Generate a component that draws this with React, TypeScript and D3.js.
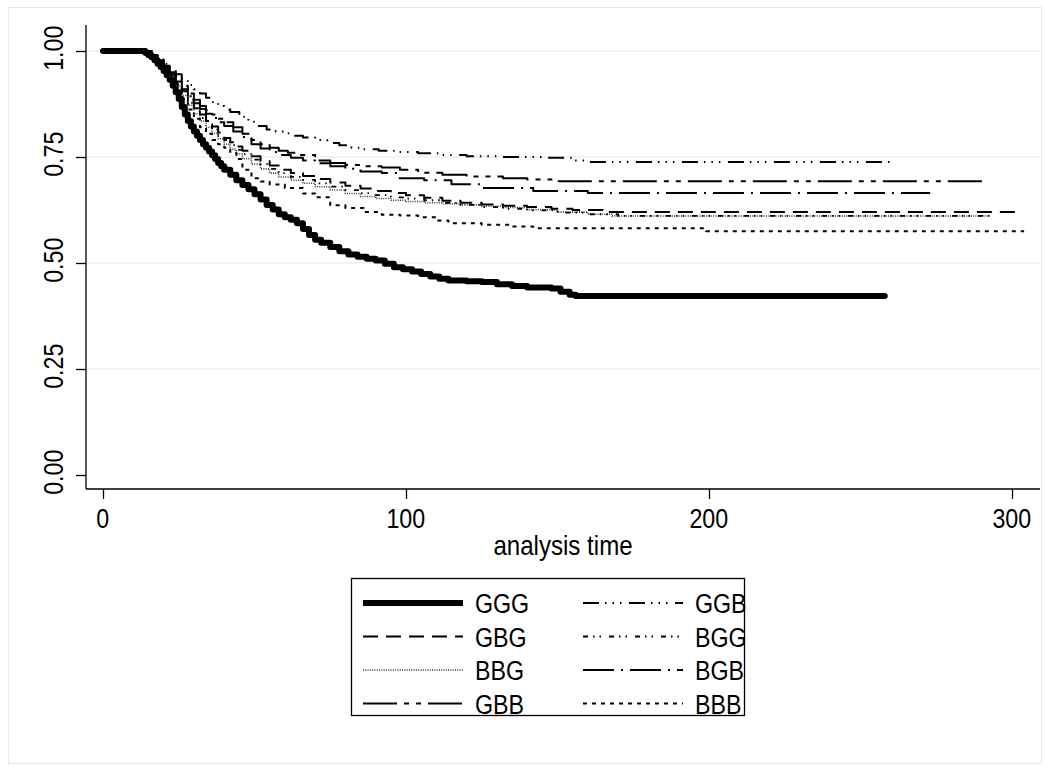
import React, { useEffect, useRef } from "react";
import * as d3 from "d3";

type Step = [number, number];

// Kaplan-Meier estimates: [analysis time, survival]
const GGG: Step[] = [
  [0, 1], [13, 1], [14, 0.995], [15, 0.99], [16, 0.985], [17, 0.978], [18, 0.97], [19, 0.962],
  [20, 0.953], [21, 0.943], [22, 0.932], [23, 0.918], [24, 0.903], [25, 0.887], [26, 0.868],
  [27, 0.85], [28, 0.835], [29, 0.822], [30, 0.81], [31, 0.8], [32, 0.79], [33, 0.78],
  [34, 0.772], [35, 0.763], [36, 0.754], [37, 0.745], [38, 0.736], [39, 0.728], [40, 0.72],
  [42, 0.708], [44, 0.695], [46, 0.684], [48, 0.674], [50, 0.662], [52, 0.65], [54, 0.637],
  [56, 0.626], [58, 0.615], [60, 0.608], [62, 0.602], [64, 0.594], [66, 0.58], [68, 0.566],
  [70, 0.555], [72, 0.548], [75, 0.538], [78, 0.528], [81, 0.52], [84, 0.515], [87, 0.51],
  [90, 0.506], [93, 0.498], [96, 0.49], [99, 0.485], [102, 0.48], [105, 0.474], [108, 0.468],
  [111, 0.463], [114, 0.459], [120, 0.457], [125, 0.455], [130, 0.45], [135, 0.446],
  [140, 0.442], [148, 0.44], [151, 0.432], [154, 0.425], [156, 0.422], [258, 0.422],
];

const GGB: Step[] = [
  [0, 1], [14, 1], [16, 0.99], [18, 0.98], [20, 0.97], [22, 0.958], [24, 0.945], [26, 0.932],
  [28, 0.92], [30, 0.91], [32, 0.9], [34, 0.89], [36, 0.88], [38, 0.87], [40, 0.862],
  [42, 0.856], [45, 0.845], [48, 0.833], [51, 0.823], [54, 0.815], [57, 0.81], [60, 0.806],
  [63, 0.8], [66, 0.796], [70, 0.79], [74, 0.783], [78, 0.778], [82, 0.772], [86, 0.768],
  [91, 0.765], [96, 0.762], [104, 0.759], [112, 0.755], [120, 0.752], [132, 0.75],
  [145, 0.748], [155, 0.742], [160, 0.738], [261, 0.738],
];

const GBB: Step[] = [
  [0, 1], [14, 1], [16, 0.99], [18, 0.978], [20, 0.965], [22, 0.95], [24, 0.935], [26, 0.918],
  [28, 0.9], [30, 0.885], [32, 0.87], [34, 0.86], [36, 0.85], [38, 0.84], [40, 0.832],
  [43, 0.82], [46, 0.805], [49, 0.79], [52, 0.78], [55, 0.772], [58, 0.765], [61, 0.76],
  [65, 0.755], [70, 0.742], [75, 0.736], [80, 0.731], [86, 0.728], [92, 0.725], [98, 0.72],
  [104, 0.713], [112, 0.708], [120, 0.704], [132, 0.7], [140, 0.697], [148, 0.693],
  [291, 0.693],
];

const BGB: Step[] = [
  [0, 1], [14, 1], [16, 0.988], [18, 0.975], [20, 0.96], [22, 0.945], [24, 0.928], [26, 0.91],
  [28, 0.893], [30, 0.877], [32, 0.863], [34, 0.852], [36, 0.842], [38, 0.832], [40, 0.823],
  [43, 0.81], [46, 0.797], [49, 0.78], [52, 0.77], [55, 0.762], [58, 0.755], [62, 0.748],
  [66, 0.742], [70, 0.735], [75, 0.728], [80, 0.722], [85, 0.716], [92, 0.712], [97, 0.7],
  [106, 0.695], [115, 0.686], [125, 0.677], [142, 0.67], [160, 0.665], [273, 0.665],
];

const GBG: Step[] = [
  [0, 1], [14, 1], [16, 0.99], [18, 0.977], [20, 0.962], [22, 0.945], [24, 0.925], [26, 0.905],
  [28, 0.885], [30, 0.865], [32, 0.85], [34, 0.835], [36, 0.822], [38, 0.808], [40, 0.795],
  [42, 0.785], [44, 0.775], [46, 0.765], [49, 0.752], [52, 0.74], [55, 0.73], [58, 0.72],
  [62, 0.712], [66, 0.705], [70, 0.698], [75, 0.69], [80, 0.682], [85, 0.676], [90, 0.67],
  [95, 0.665], [100, 0.66], [106, 0.654], [112, 0.647], [118, 0.642], [125, 0.638],
  [132, 0.635], [140, 0.632], [148, 0.628], [155, 0.625], [165, 0.62], [302, 0.62],
];

const BGG: Step[] = [
  [0, 1], [14, 1], [16, 0.99], [18, 0.976], [20, 0.96], [22, 0.942], [24, 0.922], [26, 0.9],
  [28, 0.878], [30, 0.858], [32, 0.842], [34, 0.828], [36, 0.815], [38, 0.802], [40, 0.79],
  [42, 0.778], [44, 0.767], [46, 0.757], [49, 0.744], [52, 0.733], [55, 0.722], [58, 0.712],
  [62, 0.703], [66, 0.696], [70, 0.688], [75, 0.68], [80, 0.672], [85, 0.665], [90, 0.66],
  [95, 0.655], [100, 0.652], [106, 0.648], [112, 0.642], [118, 0.637], [125, 0.632],
  [132, 0.628], [140, 0.624], [150, 0.619], [160, 0.615], [170, 0.611], [293, 0.611],
];

const BBG: Step[] = [
  [0, 1], [14, 1], [16, 0.99], [18, 0.975], [20, 0.958], [22, 0.94], [24, 0.918], [26, 0.895],
  [28, 0.872], [30, 0.852], [32, 0.835], [34, 0.82], [36, 0.806], [38, 0.793], [40, 0.78],
  [42, 0.768], [44, 0.757], [46, 0.746], [49, 0.733], [52, 0.722], [55, 0.712], [58, 0.703],
  [62, 0.695], [66, 0.688], [70, 0.68], [75, 0.672], [80, 0.664], [85, 0.657], [90, 0.652],
  [95, 0.648], [100, 0.645], [106, 0.642], [112, 0.64], [118, 0.637], [125, 0.634],
  [132, 0.631], [140, 0.626], [150, 0.62], [160, 0.615], [168, 0.611], [292, 0.611],
];

const BBB: Step[] = [
  [0, 1], [14, 1], [16, 0.988], [18, 0.972], [20, 0.953], [22, 0.932], [24, 0.91], [26, 0.886],
  [28, 0.862], [30, 0.84], [32, 0.82], [34, 0.805], [36, 0.79], [38, 0.78], [40, 0.772],
  [42, 0.76], [44, 0.745], [46, 0.72], [49, 0.7], [52, 0.692], [55, 0.685], [60, 0.677],
  [66, 0.664], [70, 0.655], [75, 0.636], [80, 0.63], [86, 0.62], [92, 0.614], [98, 0.612],
  [104, 0.608], [110, 0.6], [114, 0.594], [125, 0.59], [135, 0.586], [142, 0.582],
  [199, 0.575], [304, 0.575],
];

const seriesNames = ["GGG", "GBG", "BBG", "GBB", "GGB", "BGG", "BGB", "BBB"];
const seriesData: Record<string, Step[]> = { GGG, GBG, BBG, GBB, GGB, BGG, BGB, BBB };

const xTicks = [0, 100, 200, 300];
const yTicks = [0, 0.25, 0.5, 0.75, 1];
const xTitle = "analysis time";

// Stata-like line patterns
const lineStyle: Record<string, { dash: string; width: number; color: string }> = {
  GGG: { dash: "none", width: 6, color: "#000" },
  GBG: { dash: "15,8", width: 2, color: "#000" },
  BBG: { dash: "1,1.3", width: 1.6, color: "#333" },
  GBB: { dash: "34,7,5,7,5,7", width: 2, color: "#000" },
  GGB: { dash: "16,6,1.5,6,1.5,6,1.5,7.5", width: 2, color: "#000" },
  BGG: { dash: "5,5,1.5,5,1.5,8", width: 1.8, color: "#000" },
  BGB: { dash: "31,7,2,7", width: 2, color: "#000" },
  BBB: { dash: "4,5", width: 2, color: "#000" },
};

const FONT = "'Liberation Sans', Arial, sans-serif";
const SQUEEZE = 0.86; // Stata's labels are a little narrower than Arial

function squeeze(sel: d3.Selection<any, any, any, any>) {
  sel.each(function () {
    const node = this as SVGTextElement;
    const w = node.getComputedTextLength();
    d3.select(node).attr("textLength", w * SQUEEZE).attr("lengthAdjust", "spacingAndGlyphs");
  });
}

const App = () => {
  const ref = useRef<SVGSVGElement>(null);

  useEffect(() => {
    const svg = d3.select(ref.current);
    svg.selectAll("*").remove();

    const left = 86, right = 1040, top = 25, bottom = 489;

    const x = d3.scaleLinear().domain([0, 300]).range([103, 1012]);
    const y = d3.scaleLinear().domain([0, 1]).range([475, 51]);

    // outer graph region
    svg.append("rect")
      .attr("x", 8.5).attr("y", 7.5).attr("width", 1033).attr("height", 756)
      .attr("fill", "white").attr("stroke", "#e4e8ea").attr("stroke-width", 1);

    // grid lines
    svg.append("g")
      .selectAll("line")
      .data(yTicks.filter((d) => d > 0))
      .join("line")
      .attr("x1", left).attr("x2", right)
      .attr("y1", (d) => y(d)).attr("y2", (d) => y(d))
      .attr("stroke", "#eaf2f3").attr("stroke-width", 1.5);

    // y axis
    const yAxis = svg.append("g")
      .attr("transform", `translate(${left},0)`)
      .call(d3.axisLeft(y).tickValues(yTicks).tickSize(10).tickFormat(d3.format(".2f")));
    yAxis.select(".domain").remove();
    yAxis.selectAll(".tick line").attr("stroke", "#000").attr("stroke-width", 1.3);
    yAxis.selectAll(".tick text")
      .attr("transform", "rotate(-90)")
      .attr("x", 4).attr("y", -23).attr("dy", null)
      .attr("text-anchor", "middle")
      .attr("fill", "#000")
      .style("font-family", FONT).style("font-size", "27px");
    yAxis.append("line")
      .attr("x1", 0).attr("x2", 0).attr("y1", top).attr("y2", bottom)
      .attr("stroke", "#000").attr("stroke-width", 1.3);

    // x axis
    const xAxis = svg.append("g")
      .attr("transform", `translate(0,${bottom})`)
      .call(d3.axisBottom(x).tickValues(xTicks).tickSize(10).tickFormat(d3.format("d")));
    xAxis.select(".domain").remove();
    xAxis.selectAll(".tick line").attr("stroke", "#000").attr("stroke-width", 1.3);
    xAxis.selectAll(".tick text")
      .attr("y", 39).attr("dy", null)
      .attr("fill", "#000")
      .style("font-family", FONT).style("font-size", "27px");
    xAxis.append("line")
      .attr("x1", left).attr("x2", right).attr("y1", 0).attr("y2", 0)
      .attr("stroke", "#000").attr("stroke-width", 1.3);

    // little trailing marks Stata leaves after labels
    svg.selectAll(".tick text").each(function () {
      d3.select(this).append("tspan").attr("font-size", "6px").attr("fill", "#bbb").text(".");
    });
    squeeze(svg.selectAll(".tick text"));

    const title = svg.append("text")
      .attr("x", (left + right) / 2).attr("y", 555)
      .attr("text-anchor", "middle")
      .style("font-family", FONT).style("font-size", "28px")
      .text(xTitle);
    squeeze(title);

    // survival curves
    const line = d3.line<Step>()
      .x((d) => x(d[0]))
      .y((d) => y(d[1]))
      .curve(d3.curveStepAfter);

    const order = ["GGG", "BBB", "BBG", "BGG", "GBG", "BGB", "GBB", "GGB"];
    order.forEach((key) => {
      const st = lineStyle[key];
      svg.append("path")
        .datum(seriesData[key])
        .attr("fill", "none")
        .attr("stroke", st.color)
        .attr("stroke-width", st.width)
        .attr("stroke-dasharray", st.dash)
        .attr("stroke-linecap", key === "GGG" ? "round" : "butt")
        .attr("stroke-linejoin", "round")
        .attr("d", line);
    });

    // legend
    const lg = svg.append("g");
    lg.append("rect")
      .attr("x", 351.5).attr("y", 578.5).attr("width", 393).attr("height", 137)
      .attr("fill", "white").attr("stroke", "#000").attr("stroke-width", 1.3);

    const rowY = [603, 636.5, 670, 703.5];
    seriesNames.forEach((key, i) => {
      const col = i < 4 ? 0 : 1;
      const row = i % 4;
      const x0 = col === 0 ? 363 : 583;
      const st = lineStyle[key];
      lg.append("line")
        .attr("x1", x0).attr("x2", x0 + 100)
        .attr("y1", rowY[row]).attr("y2", rowY[row])
        .attr("stroke", st.color)
        .attr("stroke-width", st.width)
        .attr("stroke-dasharray", st.dash);
      const t = lg.append("text")
        .attr("x", x0 + 112).attr("y", rowY[row] + 10)
        .style("font-family", FONT).style("font-size", "27px")
        .text(key);
      t.append("tspan").attr("font-size", "6px").attr("fill", "#bbb").text(".");
      squeeze(t);
    });
  }, []);

  return (
    <svg
      ref={ref}
      width={1050}
      height={771}
      style={{ position: "absolute", left: 0, top: 0, background: "white" }}
    />
  );
};

export default App;
